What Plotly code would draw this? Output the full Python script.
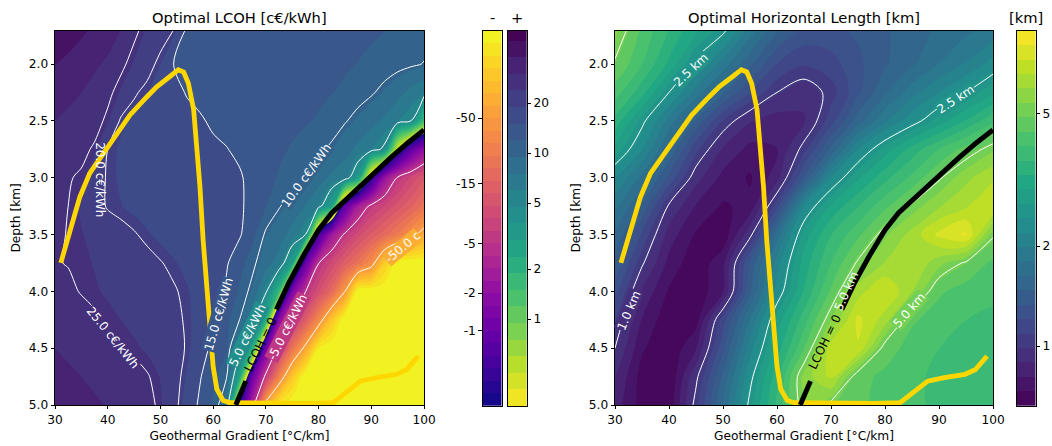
import numpy as np
import plotly.graph_objects as go

# ---------------- data ----------------
gradient = [30.0, 32.5, 35.0, 37.5, 40.0, 42.5, 45.0, 47.5, 50.0, 52.5, 55.0, 57.5, 60.0, 62.5,
            65.0, 67.5, 70.0, 72.5, 75.0, 77.5, 80.0, 82.5, 85.0, 87.5, 90.0, 92.5, 95.0, 97.5, 100.0]
depth = [1.7, 2.0, 2.25, 2.5, 2.75, 3.0, 3.25, 3.5, 3.75, 4.0, 4.25, 4.5, 4.75, 5.0]

# optimal LCOH [c€/kWh], rows = depth, columns = gradient
lcoh = [
    [47, 43, 39.5, 36, 33, 30, 26, 23.5, 22, 20, 14.4, 14.4, 14.3, 14.2, 14.1, 14, 13.8, 13.6, 13.4, 13.2, 13, 12.8, 12.6, 12.4, 12.2, 12, 11.7, 11.4, 11],
    [38, 35.5, 33, 31, 29, 26, 23.5, 21.5, 19, 15, 14.5, 14.3, 14.2, 14.1, 14, 13.8, 13.6, 13.4, 13.2, 13, 12.8, 12.5, 12.2, 11.9, 11.6, 11.2, 10.8, 10.4, 9.9],
    [34, 32, 30, 28, 26, 23.5, 20.5, 19, 17.5, 16, 14.8, 14.3, 14.1, 14, 13.8, 13.6, 13.4, 13.2, 13, 12.7, 12.4, 12, 11.6, 11, 10.3, 9.3, 8.2, 7, 6],
    [30, 28.5, 27.5, 26.5, 24.2, 19.5, 18.5, 17.8, 17.2, 16.7, 16, 15.3, 14.6, 14.2, 13.9, 13.6, 13.3, 13, 12.6, 12.2, 11.7, 11.1, 10.2, 9.2, 8.2, 7.2, 6.1, 5.1, 1.6],
    [27.5, 27, 26, 24.5, 20, 18.5, 17.8, 17.3, 16.9, 16.5, 16.1, 15.8, 15.5, 15.1, 14.5, 13.8, 13.1, 12.4, 11.7, 11, 10.4, 9.6, 8.3, 7.1, 6, 4.6, 0.4, -0.8, -2.0],
    [26, 25.3, 24.5, 22, 19.6, 18.6, 18, 17.5, 17.1, 16.8, 16.5, 16.2, 15.9, 15.6, 15.3, 14.2, 12.9, 11.7, 10.8, 10, 8.5, 7.1, 6.4, 3.2, -0.35, -2.2, -5.3, -8.2, -12],
    [25.5, 25, 23.5, 21.5, 19.7, 19, 18.3, 17.8, 17.4, 17, 16.7, 16.4, 16.1, 15.8, 15.5, 14, 12, 10.2, 8.8, 7.5, 5.9, 2.8, -0.8, -3, -5.8, -8, -11, -15, -22],
    [25.8, 24.8, 24, 23, 22, 21.2, 20.3, 19.2, 18.3, 17.7, 17.2, 16.8, 16.4, 16, 15.4, 12.8, 9.6, 8.3, 6.9, 5, -0.5, -2.6, -5.5, -9, -13, -18, -26, -40, -65],
    [25.3, 24.8, 24.3, 23.7, 23.1, 22.5, 21.9, 21.2, 20.2, 19.2, 18.2, 17.3, 16.5, 15.4, 13, 10.6, 8.4, 6.8, 3.0, -0.9, -4.9, -8.5, -14, -22, -38, -120, -250, -250, -250],
    [27, 26, 24.7, 24.1, 23.5, 22.9, 22.3, 21.7, 21.1, 20.4, 19.2, 17.8, 16.4, 14.5, 11.6, 9.2, 5.3, 1.8, -1.4, -4.9, -9.5, -18, -50, -250, -250, -250, -250, -250, -250],
    [29, 28, 27, 25.6, 24.5, 23.8, 23.1, 22.4, 21.7, 20.9, 19.6, 17.6, 15.5, 12.8, 10, 5.8, 2.3, -1.8, -5.8, -13, -35, -110, -250, -250, -250, -250, -250, -250, -250],
    [30, 29.5, 28.8, 27.8, 26.8, 25.3, 24.3, 23.4, 22.5, 21.5, 19.7, 17, 14, 12.5, 5.6, 2.2, -1.2, -6.5, -22, -60, -200, -250, -250, -250, -250, -250, -250, -250, -250],
    [31, 30.5, 30, 29.3, 28.5, 27.6, 26.6, 25.3, 23.7, 21.8, 18.6, 15.3, 12.5, 10.3, 2.8, -1.1, -6, -30, -110, -250, -250, -250, -250, -250, -250, -250, -250, -250, -250],
    [32, 31.5, 31, 30.5, 29.8, 29, 28, 26.3, 24.2, 21.3, 17.8, 14.3, 11.6, 8.0, -0.4, -3.6, -65, -200, -250, -250, -250, -250, -250, -250, -250, -250, -250, -250, -250],
]

gradient_len = [30, 35, 40, 45, 50, 55, 60, 65, 70, 75, 80, 85, 90, 95, 100]
# optimal horizontal length [km], rows = depth, columns = gradient_len
hlen = [
    [5.6, 4.3, 3.6, 3.0, 2.6, 1.9, 1.5, 1.3, 1.3, 1.35, 1.45, 1.55, 1.65, 1.75, 1.85],
    [4.9, 4.0, 3.2, 2.4, 1.9, 1.5, 1.2, 1.1, 1.15, 1.3, 1.45, 1.6, 1.8, 2.0, 2.3],
    [4.2, 3.4, 2.5, 1.9, 1.5, 1.2, 1.0, 0.92, 1.04, 1.3, 1.6, 1.9, 2.2, 2.5, 2.9],
    [3.5, 2.6, 1.9, 1.45, 1.08, 0.9, 0.85, 0.88, 1.15, 1.55, 1.95, 2.35, 2.8, 3.3, 3.9],
    [2.9, 2.2, 1.6, 1.12, 0.88, 0.78, 0.8, 1.05, 1.5, 2.2, 2.8, 3.4, 4.0, 4.6, 5.3],
    [2.2, 1.75, 1.3, 0.93, 0.78, 0.72, 0.85, 1.35, 2.2, 2.9, 3.5, 4.1, 4.9, 5.8, 6.5],
    [1.85, 1.45, 0.98, 0.8, 0.72, 0.75, 1.15, 2.2, 3.0, 3.6, 4.3, 5.1, 5.9, 6.5, 7.3],
    [1.6, 1.18, 0.85, 0.72, 0.68, 0.96, 1.7, 2.8, 3.6, 4.3, 5.3, 6.2, 7.5, 8.2, 5.1],
    [1.45, 1.02, 0.78, 0.68, 0.78, 1.35, 2.1, 3.1, 4.0, 5.1, 6.0, 6.6, 5.6, 4.9, 4.3],
    [1.25, 0.88, 0.72, 0.68, 0.8, 1.45, 2.3, 3.3, 4.5, 6.3, 7.3, 6.0, 4.5, 4.2, 4.1],
    [1.1, 0.8, 0.68, 0.7, 1.15, 1.8, 2.8, 3.8, 5.4, 7.5, 6.3, 4.5, 4.2, 4.0, 3.9],
    [1.0, 0.74, 0.67, 0.8, 1.3, 2.1, 3.1, 4.4, 7.0, 7.2, 4.7, 4.2, 4.0, 3.9, 3.8],
    [0.9, 0.7, 0.66, 0.97, 1.5, 2.4, 3.5, 5.6, 6.8, 4.6, 4.3, 4.1, 3.9, 3.8, 3.7],
    [0.85, 0.7, 0.68, 1.05, 1.65, 2.6, 3.7, 5.4, 4.95, 4.5, 4.3, 4.1, 3.9, 3.8, 3.7],
]

lcoh_line_levels = [25, 20, 15, 10, 5, -5, -50]
hlen_line_levels = [1.0, 2.5, 5.0]

# LCOH = 0 boundary (black) - lower piece, gap for label, upper piece
zero_x = [64.3, 66.2, None, 72.0, 74.3, 77.2, 80.0, 82.5, 85.0, 87.8, 90.8, 93.8, 97.0, 100.0]
zero_y = [5.0, 4.79, None, 4.16, 3.93, 3.68, 3.46, 3.31, 3.20, 3.08, 2.95, 2.82, 2.69, 2.58]

# yellow boundary
yellow_x = [31.1, 32.8, 34.7, 36.6, 39.2, 41.7, 44.2, 47.4, 49.3, 51.8, 53.4, 54.4, 55.3, 56.3, 56.9,
            57.5, 58.1, 58.8, 59.4, 60.0, 60.7, 61.9, 63.2, 70.0, 78.0, 82.8, 85.3, 87.9, 91.0, 94.8, 96.7, 98.9]
yellow_y = [3.75, 3.46, 3.17, 2.96, 2.79, 2.61, 2.45, 2.29, 2.20, 2.11, 2.05, 2.07, 2.17, 2.40, 2.70,
            3.08, 3.55, 3.93, 4.37, 4.66, 4.86, 4.96, 4.98, 4.985, 4.985, 4.98, 4.89, 4.79, 4.76, 4.73, 4.69, 4.57]

x_ticks = [30, 40, 50, 60, 70, 80, 90, 100]
y_ticks = [2.0, 2.5, 3.0, 3.5, 4.0, 4.5, 5.0]
pos_ticks = [1, 2, 5, 10, 20]
neg_ticks = [-50, -15, -5, -2, -1]
len_ticks = [1, 2, 5]

# ---------------- styling / colour helpers ----------------
FONT = "DejaVu Sans"
W, H = 1052, 446
VIRIDIS = ["#440154", "#482475", "#414487", "#355f8d", "#2a788e", "#21918c",
           "#22a884", "#44bf70", "#7ad151", "#bddf26", "#fde725"]
PLASMA = ["#0d0887", "#41049d", "#6a00a8", "#8f0da4", "#b12a90", "#cc4778",
          "#e16462", "#f2844b", "#fca636", "#fcce25", "#f0f921"]


def cmap(anchors, f):
    f = min(max(f, 0.0), 1.0) * (len(anchors) - 1)
    i = min(int(np.floor(f)), len(anchors) - 2)
    r = f - i
    a = [int(anchors[i][k:k + 2], 16) for k in (1, 3, 5)]
    b = [int(anchors[i + 1][k:k + 2], 16) for k in (1, 3, 5)]
    c = [round(a[k] + (b[k] - a[k]) * r) for k in range(3)]
    return f"rgb({c[0]},{c[1]},{c[2]})"


def stepscale(colors):
    n = len(colors)
    out = []
    for i, c in enumerate(colors):
        out.append([i / n, c])
        out.append([(i + 1) / n, c])
    return out


def fx(px):
    return px / W


def fy(py):
    return 1 - py / H


# LCOH colour coordinate: 0.1-decade bands, positives (viridis_r) above 0, negatives (plasma) below
POS_MIN, NEG_MIN = 0.3, 0.25
NPOS, NNEG = 23, 30
POS_SPAN = 22.6


def t_lcoh(v):
    v = np.asarray(v, float)
    a = np.log10(np.abs(v))
    tp = np.clip(10 * (a - np.log10(POS_MIN)), 0, NPOS)
    tn = -np.clip(10 * (a - np.log10(NEG_MIN)), 0, NNEG)
    return np.where(v > 0, tp, tn)


T = t_lcoh(lcoh)
neg_colors = [cmap(PLASMA, (NNEG - k - 0.5) / NNEG) for k in range(NNEG)]
pos_colors = [cmap(VIRIDIS, 1 - (j + 0.5) / POS_SPAN) for j in range(NPOS)]
lcoh_scale = stepscale(neg_colors + pos_colors)

# horizontal length colour coordinate
L_MIN, L_MAX, NLEN = 0.66, 8.9, 26
L_STEP = (np.log10(L_MAX) - np.log10(L_MIN)) / NLEN


def u_len(v):
    return (np.log10(np.asarray(v, float)) - np.log10(L_MIN)) / L_STEP


U = u_len(hlen)
len_colors = [cmap(VIRIDIS, (i + 0.5) / NLEN) for i in range(NLEN)]
len_scale = stepscale(len_colors)


def bilinear(xg, yg, Z, x, y):
    xg = np.asarray(xg, float)
    yg = np.asarray(yg, float)
    i = int(np.clip(np.searchsorted(xg, x) - 1, 0, len(xg) - 2))
    j = int(np.clip(np.searchsorted(yg, y) - 1, 0, len(yg) - 2))
    ax = (x - xg[i]) / (xg[i + 1] - xg[i])
    ay = (y - yg[j]) / (yg[j + 1] - yg[j])
    return (Z[j, i] * (1 - ax) * (1 - ay) + Z[j, i + 1] * ax * (1 - ay)
            + Z[j + 1, i] * (1 - ax) * ay + Z[j + 1, i + 1] * ax * ay)


def lcoh_color_at(x, y):
    t = bilinear(gradient, depth, T, x, y)
    if t >= 0:
        return pos_colors[min(int(np.floor(t)), NPOS - 1)]
    return neg_colors[max(int(np.floor(t)) + NNEG, 0)]


def len_color_at(x, y):
    u = bilinear(gradient_len, depth, U, x, y)
    return len_colors[int(np.clip(np.floor(u), 0, NLEN - 1))]


fig = go.Figure()

# ---------------- left panel: LCOH ----------------
fig.add_trace(go.Contour(
    x=gradient, y=depth, z=T, zmin=-NNEG, zmax=NPOS, autocontour=False,
    contours=dict(start=-NNEG, end=NPOS, size=1, coloring="fill", showlines=False),
    colorscale=lcoh_scale, showscale=False, line=dict(width=0),
    hoverinfo="skip", xaxis="x", yaxis="y"))
for lv in lcoh_line_levels:
    tl = float(t_lcoh(lv))
    fig.add_trace(go.Contour(
        x=gradient, y=depth, z=T, autocontour=False,
        contours=dict(start=tl, end=tl, size=1, coloring="none"),
        line=dict(color="white", width=1, smoothing=0.9), showscale=False,
        hoverinfo="skip", xaxis="x", yaxis="y"))

# ---------------- right panel: horizontal length ----------------
fig.add_trace(go.Contour(
    x=gradient_len, y=depth, z=U, zmin=0, zmax=NLEN, autocontour=False,
    contours=dict(start=0, end=NLEN, size=1, coloring="fill", showlines=False),
    colorscale=len_scale, showscale=False, line=dict(width=0),
    hoverinfo="skip", xaxis="x2", yaxis="y2"))
for lv in hlen_line_levels:
    ul = float(u_len(lv))
    fig.add_trace(go.Contour(
        x=gradient_len, y=depth, z=U, autocontour=False,
        contours=dict(start=ul, end=ul, size=1, coloring="none"),
        line=dict(color="white", width=1, smoothing=0.9), showscale=False,
        hoverinfo="skip", xaxis="x2", yaxis="y2"))

# boundaries on both panels
for xa, ya in (("x", "y"), ("x2", "y2")):
    fig.add_trace(go.Scatter(x=yellow_x, y=yellow_y, mode="lines",
                             line=dict(color="#FFD700", width=4.8),
                             hoverinfo="skip", showlegend=False, xaxis=xa, yaxis=ya))
    fig.add_trace(go.Scatter(x=zero_x, y=zero_y, mode="lines",
                             line=dict(color="black", width=5),
                             hoverinfo="skip", showlegend=False, xaxis=xa, yaxis=ya))

# ---------------- colour bars (drawn as small heatmap panels) ----------------
neg_edges = list(range(-NNEG, 1))
fig.add_trace(go.Heatmap(x=[0, 1], y=neg_edges, z=[[e + 0.5] for e in neg_edges[:-1]],
                         colorscale=lcoh_scale, zmin=-NNEG, zmax=NPOS, showscale=False,
                         hoverinfo="skip", xaxis="x3", yaxis="y3"))
pos_edges = list(range(0, NPOS + 1))
fig.add_trace(go.Heatmap(x=[0, 1], y=pos_edges, z=[[e + 0.5] for e in pos_edges[:-1]],
                         colorscale=lcoh_scale, zmin=-NNEG, zmax=NPOS, showscale=False,
                         hoverinfo="skip", xaxis="x4", yaxis="y4"))
len_edges = list(range(0, NLEN + 1))
fig.add_trace(go.Heatmap(x=[0, 1], y=len_edges, z=[[e + 0.5] for e in len_edges[:-1]],
                         colorscale=len_scale, zmin=0, zmax=NLEN, showscale=False,
                         hoverinfo="skip", xaxis="x5", yaxis="y5"))

# ---------------- axes ----------------
TICKFONT = dict(family=FONT, size=12.2, color="black")
frame = dict(showline=True, linecolor="black", linewidth=0.8, mirror=True,
             showgrid=False, zeroline=False, ticks="outside", ticklen=3.5,
             tickwidth=0.8, tickcolor="black", tickfont=TICKFONT, automargin=False)


def main_x(dom, anchor):
    return dict(domain=dom, range=[30, 100], anchor=anchor, tickvals=x_ticks,
                title=dict(text="Geothermal Gradient [°C/km]", font=TICKFONT, standoff=5), **frame)


def main_y(dom, anchor):
    return dict(domain=dom, range=[5.0, 1.707], anchor=anchor, tickvals=y_ticks,
                ticktext=[f"{v:.1f}" for v in y_ticks],
                title=dict(text="Depth [km]", font=TICKFONT, standoff=5), **frame)


def bar_x(dom, anchor):
    d = dict(frame)
    d.update(ticks="", showticklabels=False)
    return dict(domain=dom, range=[0, 1], anchor=anchor, **d)


def bar_y(dom, anchor, rng, tv, tt, side):
    return dict(domain=dom, range=rng, anchor=anchor, tickvals=tv, ticktext=tt, side=side, **frame)


ydom = [fy(405), fy(30.7)]
bdom = [fy(406), fy(30.7)]
neg_tv = [float(t_lcoh(v)) for v in neg_ticks]
pos_tv = [float(t_lcoh(v)) for v in pos_ticks]
len_tv = [float(u_len(v)) for v in len_ticks]

fig.update_layout(
    width=W, height=H, margin=dict(l=0, r=0, t=0, b=0, autoexpand=False),
    paper_bgcolor="white", plot_bgcolor="white", showlegend=False,
    font=dict(family=FONT, color="black"),
    xaxis=main_x([fx(55), fx(424)], "y"),
    yaxis=main_y(ydom, "x"),
    xaxis2=main_x([fx(615), fx(993)], "y2"),
    yaxis2=main_y(ydom, "x2"),
    xaxis3=bar_x([fx(482.7), fx(501.7)], "y3"),
    yaxis3=bar_y(bdom, "x3", [0, -NNEG], neg_tv, [str(v) for v in neg_ticks], "left"),
    xaxis4=bar_x([fx(508), fx(526.7)], "y4"),
    yaxis4=bar_y(bdom, "x4", [0, POS_SPAN], pos_tv, [str(v) for v in pos_ticks], "right"),
    xaxis5=bar_x([fx(1016.7), fx(1035.7)], "y5"),
    yaxis5=bar_y(bdom, "x5", [0, NLEN], len_tv, [str(v) for v in len_ticks], "right"),
)

# ---------------- titles ----------------
TITLEFONT = dict(family=FONT, size=14.7, color="black")
ann = []
for text, px in (("Optimal LCOH [c€/kWh]", 239.5), ("Optimal Horizontal Length [km]", 804),
                 ("-", 492.2), ("+", 517.3), ("[km]", 1026.2)):
    ann.append(dict(x=fx(px), y=fy(17), xref="paper", yref="paper", text=text,
                    showarrow=False, font=TITLEFONT, xanchor="center", yanchor="middle"))


def clabel(x, y, text, angle, xr, yr, bg=None, color="white"):
    d = dict(x=x, y=y, xref=xr, yref=yr, text=text, textangle=angle, showarrow=False,
             font=dict(family=FONT, size=12, color=color), borderpad=0)
    if bg is not None:
        d["bgcolor"] = bg
    return d


# contour labels, left panel
for text, x, y, ang, use_bg in (
        ("20.0 c€/kWh", 38.5, 3.02, 90, False),
        ("25.0 c€/kWh", 41.0, 4.41, 51, True),
        ("15.0 c€/kWh", 61.1, 4.20, -74, True),
        ("10.0 c€/kWh", 77.8, 2.98, -54, True),
        ("5.0 c€/kWh", 66.5, 4.38, -64, True),
        ("-5.0 c€/kWh", 74.1, 4.31, -63, True),
        ("-50.0 c", 96.0, 3.61, -40, True)):
    ann.append(clabel(x, y, text, ang, "x", "y", lcoh_color_at(x, y) if use_bg else None))
ann.append(clabel(68.9, 4.47, "LCOH = 0", -64, "x", "y", color="black"))

# contour labels, right panel
for text, x, y, ang, use_bg in (
        ("2.5 km", 44.0, 2.05, -43, True),
        ("2.5 km", 93.2, 2.31, -33, True),
        ("1.0 km", 32.5, 4.17, -67, True),
        ("5.0 km", 72.9, 4.00, -66, False),
        ("5.0 km", 84.5, 4.16, -49, True)):
    ann.append(clabel(x, y, text, ang, "x2", "y2", len_color_at(x, y) if use_bg else None))
ann.append(clabel(68.9, 4.45, "LCOH = 0", -64, "x2", "y2", color="black"))

fig.update_layout(annotations=ann)
fig.write_html("out.html", config={"displayModeBar": False},
               post_script="document.body.style.margin='0';document.body.style.overflow='hidden';")
